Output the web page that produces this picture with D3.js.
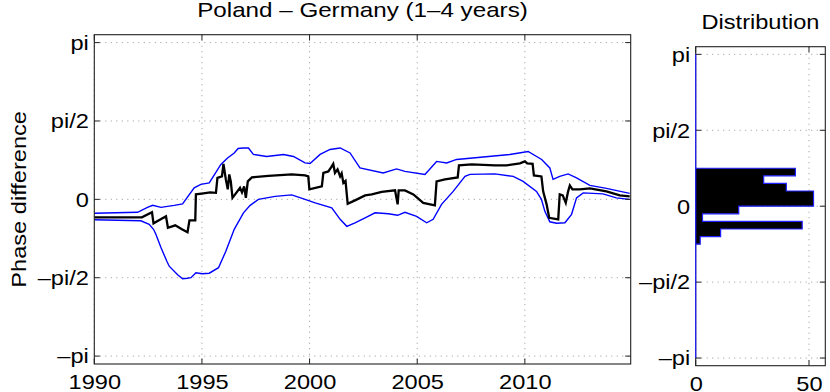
<!DOCTYPE html>
<html>
<head>
<meta charset="utf-8">
<script src="https://cdn.jsdelivr.net/npm/d3@7"></script>
<style>
	html, body { margin: 0; padding: 0; background: #fff; }
	svg { display: block; }
</style>
</head>
<body>
<svg id="fig" width="830" height="392"></svg>
<script>
// phase difference, Poland vs Germany, monthly wavelet band 1-4 years
const mid_years = [1990.0, 1992.21, 1992.68, 1992.75, 1993.33, 1993.42, 1993.76, 1994.07, 1994.33, 1994.42, 1994.69, 1994.72,
	1995.07, 1995.38, 1995.65, 1995.72, 1995.93, 1996.0, 1996.11, 1996.2, 1996.27, 1996.34, 1996.42, 1996.77, 1996.86,
	1996.96, 1997.04, 1997.13, 1997.32, 1998.09, 1999.17, 1999.79, 1999.94, 1999.99, 2000.57, 2000.64, 2000.87, 2001.0,
	2001.1, 2001.18, 2001.3, 2001.42, 2001.49, 2001.57, 2001.67, 2001.77, 2002.11, 2002.58, 2002.89, 2003.35, 2003.97,
	2004.09, 2004.14, 2004.43, 2004.82, 2005.28, 2005.82, 2005.9, 2006.29, 2006.88, 2006.94, 2007.53, 2008.61, 2009.15,
	2009.77, 2010.0, 2010.11, 2010.36, 2010.42, 2010.77, 2010.85, 2011.01, 2011.13, 2011.55, 2011.62, 2011.76, 2011.9,
	2012.01, 2012.09, 2012.21, 2012.55, 2013.02, 2013.79, 2014.41, 2014.87];
const mid_phase = [-0.36, -0.36, -0.26, -0.48, -0.34, -0.57, -0.52, -0.6, -0.66, -0.42, -0.42, 0.1,
	0.12, 0.14, 0.13, 0.43, 0.46, 0.71, 0.4, 0.2, 0.5, 0.36, 0.03, 0.23, 0.14,
	0.26, 0.03, 0.36, 0.44, 0.47, 0.5, 0.48, 0.46, 0.2, 0.26, 0.53, 0.56, 0.64,
	0.71, 0.53, 0.6, 0.46, 0.52, 0.33, 0.37, -0.09, -0.02, 0.08, 0.1, 0.15, 0.18,
	-0.1, 0.18, 0.18, 0.1, -0.07, -0.12, 0.36, 0.4, 0.44, 0.68, 0.7, 0.68, 0.68,
	0.72, 0.76, 0.72, 0.71, 0.48, 0.46, 0.16, -0.1, -0.37, -0.4, 0.1, 0.08, -0.07,
	0.16, 0.28, 0.2, 0.2, 0.22, 0.16, 0.08, 0.06];

// upper confidence bound
const upper_years = [1990.0, 1992.01, 1992.47, 1992.71, 1993.1, 1993.71, 1994.1, 1994.64, 1994.95, 1995.34, 1995.88,
	1996.19, 1996.5, 1996.68, 1996.91, 1997.16, 1997.39, 1998.01, 1998.79, 1999.25, 1999.79, 2000.02, 2000.49, 2000.95,
	2001.42, 2001.88, 2002.34, 2003.42, 2004.04, 2004.43, 2005.36, 2005.9, 2006.37, 2006.83, 2008.07, 2009.3, 2010.15,
	2010.78, 2011.16, 2011.31, 2011.62, 2012.01, 2012.4, 2013.02, 2013.79, 2014.87];
const upper_phase = [-0.28, -0.26, -0.16, -0.12, -0.16, -0.12, -0.09, 0.23, 0.3, 0.33, 0.7,
	0.83, 0.93, 1.02, 1.03, 1.03, 0.9, 0.86, 0.9, 0.86, 0.73, 0.72, 0.9, 1.0,
	1.03, 0.93, 0.63, 0.53, 0.61, 0.56, 0.5, 0.76, 0.73, 0.8, 0.85, 0.9, 0.96,
	0.8, 0.63, 0.4, 0.46, 0.51, 0.43, 0.28, 0.22, 0.12];

// lower confidence bound
const lower_years = [1990.0, 1992.16, 1992.55, 1992.75, 1992.86, 1993.1, 1993.37, 1993.48, 1993.87, 1994.1, 1994.32,
	1994.49, 1994.72, 1995.01, 1995.34, 1995.77, 1996.11, 1996.5, 1996.93, 1997.24, 1997.62, 1998.4, 1999.17, 1999.79,
	2000.26, 2001.03, 2001.42, 2001.73, 2002.11, 2002.58, 2003.04, 2003.66, 2004.09, 2004.43, 2004.97, 2005.44, 2005.74,
	2006.13, 2006.67, 2007.22, 2007.45, 2008.61, 2009.46, 2009.92, 2010.54, 2010.77, 2010.93, 2011.16, 2011.47, 2011.86,
	2012.17, 2012.4, 2012.71, 2013.63, 2014.25, 2014.87];
const lower_phase = [-0.41, -0.43, -0.5, -0.6, -0.7, -0.97, -1.24, -1.34, -1.51, -1.59, -1.58,
	-1.57, -1.47, -1.49, -1.48, -1.37, -1.04, -0.6, -0.27, -0.12, 0.0, 0.06, 0.09, 0.0,
	-0.07, -0.17, -0.4, -0.54, -0.47, -0.37, -0.27, -0.29, -0.32, -0.26, -0.34, -0.47, -0.4,
	-0.1, 0.16, 0.46, 0.5, 0.51, 0.46, 0.36, 0.16, 0.0, -0.24, -0.45, -0.48, -0.47,
	-0.3, 0.03, 0.13, 0.11, 0.03, 0.0];

// distribution: 40 bins from -pi to pi
const hist_counts = [0, 0, 0, 0, 0, 0, 0, 0, 0, 0, 0, 0, 0, 0, 0,
	2, 11, 47, 3, 19, 52, 52, 40, 30, 44,
	0, 0, 0, 0, 0, 0, 0, 0, 0, 0, 0, 0, 0, 0, 0];

const year_ticks = [1990, 1995, 2000, 2005, 2010];
const phase_ticks = [-Math.PI, -Math.PI / 2, 0, Math.PI / 2, Math.PI];
const phase_tick_labels = ["\u2013pi", "\u2013pi/2", "0", "pi/2", "pi"];
const count_ticks = [0, 50];

const title_main = "Poland \u2013 Germany (1\u20134 years)";
const title_hist = "Distribution";
const ylabel_main = "Phase difference";

// the original used a wide helvetica, so text is stretched horizontally
const FONT = "'Liberation Sans', Arial, Helvetica, sans-serif";
const STRETCH = 1.18;
const TICK_LEN = 5.5;

const svg = d3.select("#fig");

const main_area = {left: 94.3, right: 630.7, top: 34.7, bottom: 364};
const hist_area = {left: 695.7, right: 825.3, top: 46.7, bottom: 365.7};

const scaleX = d3.scaleLinear().domain([1990, 2014 + 11 / 12]).range([main_area.left, main_area.right]);
const scaleY = d3.scaleLinear().domain([-3.3, 3.3]).range([main_area.bottom, main_area.top]);
const scaleX_hist = d3.scaleLinear().domain([0, d3.max(hist_counts) * 1.1]).range([hist_area.left, hist_area.right]);
const scaleY_hist = d3.scaleLinear().domain([-3.3, 3.3]).range([hist_area.bottom, hist_area.top]);

function stretchedText(parent, txt, x, y, size, rotate) {
	return parent.append("text")
		.attr("transform", `translate(${x},${y})` + (rotate ? ` rotate(${rotate})` : "") + ` scale(${STRETCH},1)`)
		.attr("text-anchor", "middle")
		.attr("font-family", FONT)
		.attr("font-size", size)
		.attr("fill", "#000")
		.text(txt);
}

function drawGrid(g, area, sx, sy, xticks, yticks) {
	g.selectAll(".hgrid").data(yticks).enter().append("line")
		.attr("x1", area.left).attr("x2", area.right)
		.attr("y1", d => sy(d)).attr("y2", d => sy(d));
	g.selectAll(".vgrid").data(xticks).enter().append("line")
		.attr("x1", d => sx(d)).attr("x2", d => sx(d))
		.attr("y1", area.top).attr("y2", area.bottom);
	g.selectAll("line")
		.attr("stroke", "#8a8a8a")
		.attr("stroke-width", 0.9)
		.attr("stroke-dasharray", "1,4.5");
}

function drawFrame(g, area, sx, sy, xticks, yticks) {
	g.append("rect")
		.attr("x", area.left).attr("y", area.top)
		.attr("width", area.right - area.left).attr("height", area.bottom - area.top)
		.attr("fill", "none").attr("stroke", "#222").attr("stroke-width", 1.1);

	// inward ticks on all four sides
	const ticks = g.append("g").attr("stroke", "#222").attr("stroke-width", 1);
	yticks.forEach(v => {
		ticks.append("line").attr("x1", area.left).attr("x2", area.left + TICK_LEN).attr("y1", sy(v)).attr("y2", sy(v));
		ticks.append("line").attr("x1", area.right).attr("x2", area.right - TICK_LEN).attr("y1", sy(v)).attr("y2", sy(v));
	});
	xticks.forEach(v => {
		ticks.append("line").attr("y1", area.bottom).attr("y2", area.bottom - TICK_LEN).attr("x1", sx(v)).attr("x2", sx(v));
		ticks.append("line").attr("y1", area.top).attr("y2", area.top + TICK_LEN).attr("x1", sx(v)).attr("x2", sx(v));
	});
}

function drawLabels(area, sx, sy, xticks, xfmt) {
	const left_axis = svg.append("g")
		.attr("transform", `translate(${area.left},0)`)
		.call(d3.axisLeft(sy).tickValues(phase_ticks).tickFormat((d, i) => phase_tick_labels[i]).tickSize(0));
	const bottom_axis = svg.append("g")
		.attr("transform", `translate(0,${area.bottom})`)
		.call(d3.axisBottom(sx).tickValues(xticks).tickFormat(xfmt).tickSize(0));

	[left_axis, bottom_axis].forEach(ax => {
		ax.select(".domain").remove();
		ax.attr("font-family", FONT).attr("font-size", 20);
		ax.selectAll("text").attr("fill", "#000").attr("transform", `scale(${STRETCH},1)`);
	});
	left_axis.selectAll("text").attr("x", -5.5 / STRETCH).attr("dy", "0.34em");
	bottom_axis.selectAll("text").attr("y", 25.3).attr("dy", null);
}

// ---- main panel ----
const main_g = svg.append("g");
drawGrid(main_g.append("g"), main_area, scaleX, scaleY, year_ticks, phase_ticks);

const line = d3.line()
	.x(d => scaleX(d[0]))
	.y(d => scaleY(d[1]));

const curves = [
	{years: upper_years, phase: upper_phase, color: "#0000ff", width: 1.4},
	{years: lower_years, phase: lower_phase, color: "#0000ff", width: 1.4},
	{years: mid_years, phase: mid_phase, color: "#000", width: 2.3}
];
main_g.selectAll("path.curve")
	.data(curves)
	.enter()
	.append("path")
	.attr("class", "curve")
	.attr("d", c => line(d3.zip(c.years, c.phase)))
	.attr("fill", "none")
	.attr("stroke", c => c.color)
	.attr("stroke-width", c => c.width);

drawFrame(main_g, main_area, scaleX, scaleY, year_ticks, phase_ticks);
drawLabels(main_area, scaleX, scaleY, year_ticks, d3.format("d"));

stretchedText(svg, title_main, (main_area.left + main_area.right) / 2, 16.7, 20.5);
stretchedText(svg, ylabel_main, 26, (main_area.top + main_area.bottom) / 2, 20, -90);

// ---- distribution panel ----
const hist_g = svg.append("g");
drawGrid(hist_g.append("g"), hist_area, scaleX_hist, scaleY_hist, count_ticks, phase_ticks);
drawFrame(hist_g, hist_area, scaleX_hist, scaleY_hist, count_ticks, phase_ticks);

const bin_width = 2 * Math.PI / hist_counts.length;
const bins = hist_counts.map((c, i) => ({
	count: c,
	lo: -Math.PI + i * bin_width,
	hi: -Math.PI + (i + 1) * bin_width
}));

// one step outline for the whole histogram: black fill, blue edge
const outline = d3.path();
outline.moveTo(scaleX_hist(0), scaleY_hist(-Math.PI));
bins.forEach(b => {
	outline.lineTo(scaleX_hist(b.count), scaleY_hist(b.lo));
	outline.lineTo(scaleX_hist(b.count), scaleY_hist(b.hi));
});
outline.lineTo(scaleX_hist(0), scaleY_hist(Math.PI));
outline.closePath();
hist_g.append("path")
	.attr("d", outline.toString())
	.attr("fill", "#000")
	.attr("stroke", "#2020ff")
	.attr("stroke-width", 1.2);

drawLabels(hist_area, scaleX_hist, scaleY_hist, count_ticks, d3.format("d"));
stretchedText(svg, title_hist, (hist_area.left + hist_area.right) / 2, 29.3, 20);
</script>
</body>
</html>
